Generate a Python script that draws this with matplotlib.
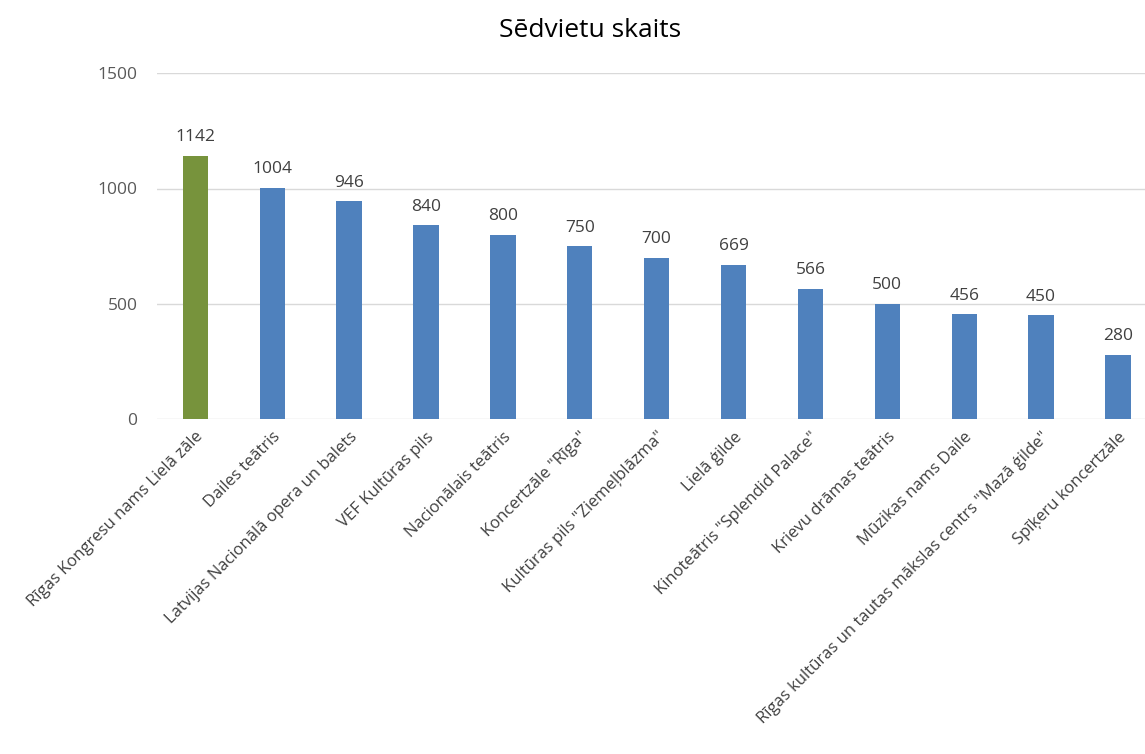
import matplotlib
matplotlib.use('Agg')
import matplotlib.pyplot as plt

plt.rcParams['font.family'] = ['Open Sans', 'DejaVu Sans']

venues = ['Rīgas Kongresu nams Lielā zāle', 'Dailes teātris',
          'Latvijas Nacionālā opera un balets', 'VEF Kultūras pils',
          'Nacionālais teātris', 'Koncertzāle "Rīga"',
          'Kultūras pils "Ziemeļblāzma"', 'Lielā ģilde',
          'Kinoteātris "Splendid Palace"', 'Krievu drāmas teātris',
          'Mūzikas nams Daile', 'Rīgas kultūras un tautas mākslas centrs "Mazā ģilde"',
          'Spīķeru koncertzāle']
seats = [1142, 1004, 946, 840, 800, 750, 700, 669, 566, 500, 456, 450, 280]
yticks = [0, 500, 1000, 1500]

colors = ['#77933C'] + ['#4F81BD'] * (len(seats) - 1)

fig = plt.figure(figsize=(11.45, 7.54), dpi=100)
ax = fig.add_axes([0.137, 0.444, 0.873, 0.459])

x = range(len(seats))
ax.bar(x, seats, width=0.33, color=colors, zorder=2)
for i, v in zip(x, seats):
    ax.text(i, v + 45, str(v), ha='center', va='bottom', fontsize=12.5, color='#404040')

ax.set_xlim(-0.5, len(seats) - 0.5)
ax.set_ylim(0, 1500)
ax.set_yticks(yticks)
ax.set_yticklabels([str(t) for t in yticks], fontsize=12.5, color='#595959')
ax.set_xticks(list(x))
ax.set_xticklabels(venues, rotation=45, ha='right', rotation_mode='anchor',
                   fontsize=12, color='#404040')
ax.tick_params(axis='both', length=0)
ax.tick_params(axis='y', pad=14)
ax.tick_params(axis='x', pad=7)
ax.grid(axis='y', color='#D9D9D9', linewidth=1, zorder=0)
for s in ax.spines.values():
    s.set_visible(False)

fig.text(0.515, 0.96, 'Sēdvietu skaits', ha='center', va='center', fontsize=19, color='#000000')

fig.savefig('out.png', dpi=100, facecolor='white')
